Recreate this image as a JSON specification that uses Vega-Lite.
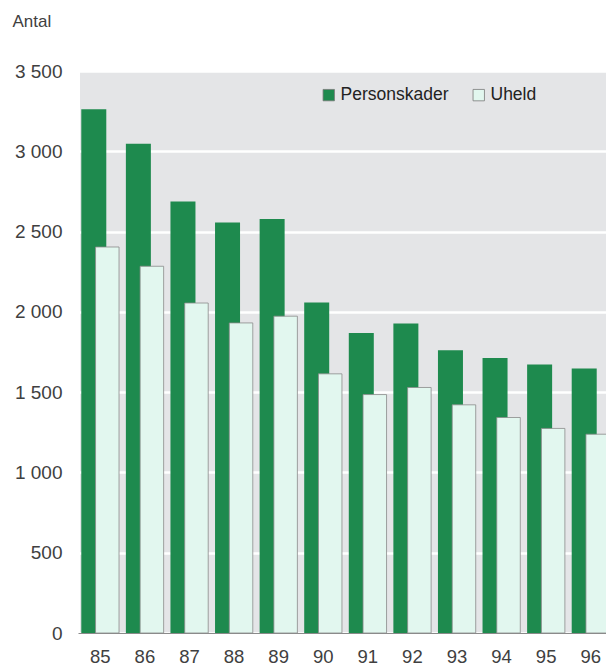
{
  "$schema": "https://vega.github.io/schema/vega-lite/v6.json",
  "width": 526,
  "height": 562,
  "autosize": {"type": "none"},
  "padding": {"left": 80, "top": 71, "right": 0, "bottom": 33},
  "background": "#ffffff",
  "config": {
    "view": {"fill": "#e4e5e7", "stroke": null},
    "font": "Liberation Sans",
    "axis": {"labelFont": "Liberation Sans", "titleFont": "Liberation Sans"}
  },
  "data": {
    "values": [
      {"year": "85", "type": "Personskader", "value": 3262},
      {"year": "86", "type": "Personskader", "value": 3047},
      {"year": "87", "type": "Personskader", "value": 2688},
      {"year": "88", "type": "Personskader", "value": 2557},
      {"year": "89", "type": "Personskader", "value": 2578},
      {"year": "90", "type": "Personskader", "value": 2058},
      {"year": "91", "type": "Personskader", "value": 1869},
      {"year": "92", "type": "Personskader", "value": 1927},
      {"year": "93", "type": "Personskader", "value": 1761},
      {"year": "94", "type": "Personskader", "value": 1713},
      {"year": "95", "type": "Personskader", "value": 1672},
      {"year": "96", "type": "Personskader", "value": 1647},
      {"year": "85", "type": "Uheld", "value": 2404},
      {"year": "86", "type": "Uheld", "value": 2284},
      {"year": "87", "type": "Uheld", "value": 2055},
      {"year": "88", "type": "Uheld", "value": 1931},
      {"year": "89", "type": "Uheld", "value": 1973},
      {"year": "90", "type": "Uheld", "value": 1614},
      {"year": "91", "type": "Uheld", "value": 1485},
      {"year": "92", "type": "Uheld", "value": 1529},
      {"year": "93", "type": "Uheld", "value": 1421},
      {"year": "94", "type": "Uheld", "value": 1342},
      {"year": "95", "type": "Uheld", "value": 1274},
      {"year": "96", "type": "Uheld", "value": 1238}
    ]
  },
  "encoding": {
    "x": {
      "field": "year",
      "type": "ordinal",
      "scale": {"range": [-2, 533], "paddingInner": 0, "paddingOuter": 0},
      "axis": {
        "title": null,
        "labelAngle": 0,
        "labelFontSize": 18.5,
        "labelColor": "#404040",
        "labelPadding": 14,
        "ticks": false,
        "domain": true,
        "domainColor": "#8a8a8a",
        "domainWidth": 1.2
      }
    },
    "y": {
      "field": "value",
      "type": "quantitative",
      "scale": {"domain": [0, 3500], "nice": false},
      "axis": {
        "title": "Antal",
        "titleAngle": 0,
        "titleAlign": "left",
        "titleBaseline": "middle",
        "titleX": -68,
        "titleY": -50,
        "titleFontSize": 17,
        "titleFontWeight": "normal",
        "titleColor": "#404040",
        "values": [0, 500, 1000, 1500, 2000, 2500, 3000, 3500],
        "labelExpr": "replace(format(datum.value, ','), ',', ' ')",
        "labelFontSize": 19,
        "labelColor": "#404040",
        "labelPadding": 18,
        "labelBaseline": "middle",
        "ticks": false,
        "domain": false,
        "grid": true,
        "gridColor": "#ffffff",
        "gridWidth": 2.5
      }
    },
    "color": {
      "field": "type",
      "type": "nominal",
      "scale": {"domain": ["Personskader", "Uheld"], "range": ["#1e8a4e", "#e2f7ef"]},
      "legend": {
        "title": null,
        "orient": "none",
        "direction": "horizontal",
        "legendX": 240,
        "legendY": 15,
        "symbolType": "square",
        "symbolSize": 130,
        "symbolOpacity": 1,
        "symbolStrokeColor": "#7a7a7a",
        "symbolStrokeWidth": 0.8,
        "labelFontSize": 17.5,
        "labelColor": "#222222",
        "labelOffset": 3,
        "columnPadding": 21
      }
    }
  },
  "layer": [
    {
      "transform": [{"filter": "datum.type === 'Personskader'"}],
      "mark": {"type": "bar", "width": 25, "xOffset": -6.5, "clip": true}
    },
    {
      "transform": [{"filter": "datum.type === 'Uheld'"}],
      "mark": {"type": "bar", "width": 23.5, "xOffset": 7, "clip": true, "stroke": "#8a8a8a", "strokeWidth": 0.8}
    }
  ]
}
